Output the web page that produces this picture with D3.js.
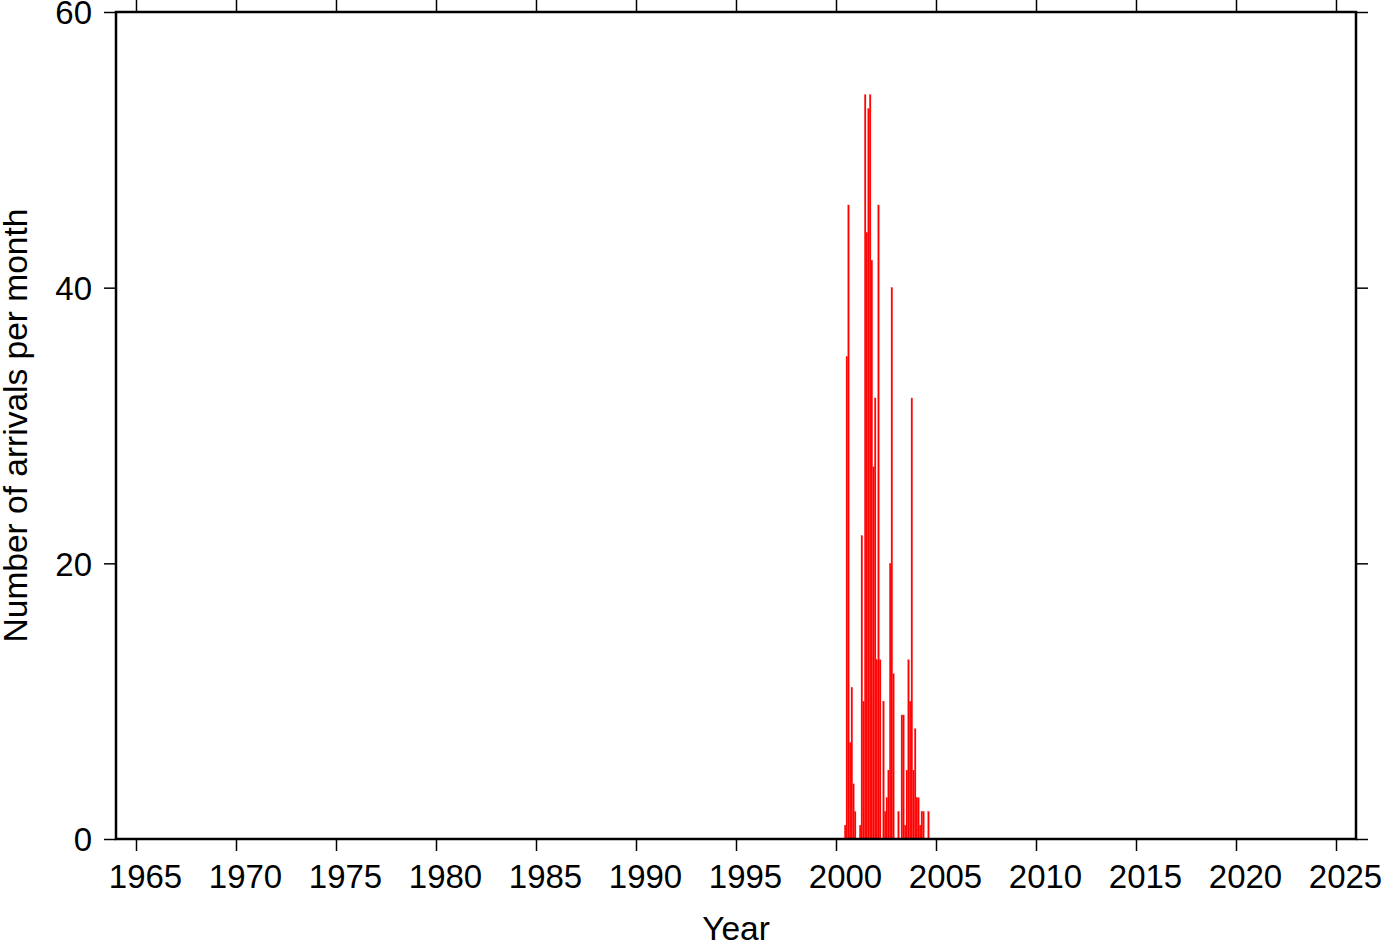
<!DOCTYPE html>
<html>
<head>
<meta charset="utf-8">
<script src="https://cdn.jsdelivr.net/npm/d3@7"></script>
<style>
  html, body { margin: 0; padding: 0; background: #fff; }
  svg { display: block; }
  text { font-family: "Liberation Sans", Helvetica, Arial, sans-serif; fill: #000; }
</style>
</head>
<body>
<svg id="chart" width="1382" height="942"></svg>
<script>
// ---- data ----
const firstMonth = "2000-06";   // month of the first bin
const monthlyCounts = [1, 35, 46, 7, 11, 4, 2, 0, 0, 1, 22, 10, 54, 44, 53, 54, 42, 27, 32,
  13, 46, 13, 0, 10, 2, 3, 5, 20, 40, 12, 0, 0, 2, 0, 9, 9, 1, 5, 13, 10, 32, 5, 8, 3, 3, 1, 2, 2, 0, 0, 2];
const xTicks = [1965, 1970, 1975, 1980, 1985, 1990, 1995, 2000, 2005, 2010, 2015, 2020, 2025];
const yTicks = [0, 20, 40, 60];
const xDomain = [1964, 2026];
const yDomain = [0, 60];
const xLabel = "Year";
const yLabel = "Number of arrivals per month";

// ---- layout ----
const svg = d3.select("#chart");
const L = 116, R = 1356, T = 12, B = 839;
const x = d3.scaleLinear().domain(xDomain).range([L, R]);
const y = d3.scaleLinear().domain(yDomain).range([B, T]);

const [fy, fm] = firstMonth.split("-").map(Number);
const bins = monthlyCounts.map((c, i) => {
  const m = (fm - 1) + i;
  const start = fy + m / 12;
  return { start, end: start + 1 / 12, count: c };
});

// bars
svg.append("g").selectAll("rect")
  .data(bins.filter(d => d.count > 0))
  .join("rect")
  .attr("x", d => x(d.start))
  .attr("width", d => x(d.end) - x(d.start))
  .attr("y", d => y(d.count))
  .attr("height", d => y(0) - y(d.count))
  .attr("fill", "#ff0000")
  .attr("stroke", "#ff3030")
  .attr("stroke-width", 0.25);

// axes
const fontTick = 33;
const ax = svg.append("g")
  .attr("transform", `translate(0,${B})`)
  .call(d3.axisBottom(x).tickValues(xTicks).tickFormat(d3.format("d")).tickSize(12).tickPadding(14));
const axTop = svg.append("g")
  .attr("transform", `translate(0,${T})`)
  .call(d3.axisTop(x).tickValues(xTicks).tickFormat("").tickSize(12));
const ay = svg.append("g")
  .attr("transform", `translate(${L},0)`)
  .call(d3.axisLeft(y).tickValues(yTicks).tickSize(12).tickPadding(12));
const ayR = svg.append("g")
  .attr("transform", `translate(${R},0)`)
  .call(d3.axisRight(y).tickValues(yTicks).tickFormat("").tickSize(12));

[ax, axTop, ay, ayR].forEach(g => {
  g.select(".domain").remove();
  g.selectAll(".tick line").attr("stroke", "#000").attr("stroke-width", 1.5);
  g.selectAll(".tick text").attr("font-size", fontTick).attr("fill", "#000")
    .style("font-family", '"Liberation Sans", Helvetica, Arial, sans-serif');
});
ax.selectAll(".tick text").attr("dy", null).attr("y", 49).attr("x", 9);
ay.selectAll(".tick text").attr("dy", "0.36em");

// frame
svg.append("rect")
  .attr("x", L).attr("y", T).attr("width", R - L).attr("height", B - T)
  .attr("fill", "none").attr("stroke", "#000").attr("stroke-width", 2.5);

// axis labels
svg.append("text")
  .attr("x", (L + R) / 2).attr("y", 940)
  .attr("text-anchor", "middle").attr("font-size", 33.5)
  .text(xLabel);
svg.append("text")
  .attr("transform", `translate(27,${(T + B) / 2}) rotate(-90)`)
  .attr("text-anchor", "middle").attr("font-size", 33.5)
  .text(yLabel);
</script>
</body>
</html>
